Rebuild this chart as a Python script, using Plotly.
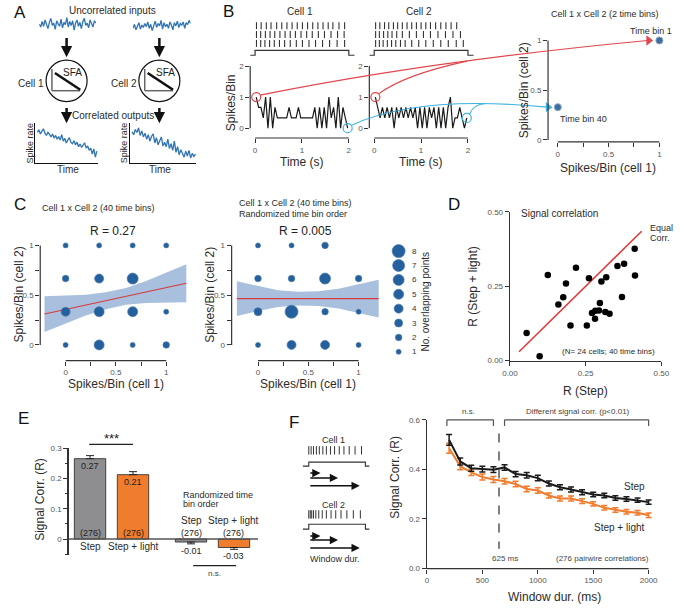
import plotly.graph_objects as go

W, H = 683, 613
FONT = "Liberation Sans, Arial, sans-serif"
TXT = "#2b2b2b"
AX = "#333333"
RED = "#e0474c"
CYAN = "#3fb3e0"
BLUE = "#2f74b5"
BUB = "#23609d"
BUB_EDGE = "#4a78a8"
GRAY = "#8e8e91"
ORANGE = "#f07c2e"

# ======================= DATA =======================
# Panel A: schematic rate traces (arbitrary units)
a_in_cell1 = [0.1, -0.3, 0.4, -0.2, 0.6, 0.0, -0.5, 0.3, 0.8, -0.1, 0.2, -0.6, 0.5, 0.1, -0.2, 0.7, -0.4, 0.3, 0.0, 0.9,
              -0.3, 0.4, -0.1, 0.5, -0.7, 0.2, 0.6, -0.2, 0.3, -0.5, 0.4, 0.8, -0.1, 0.2, -0.4, 0.6, 0.1, -0.3, 0.5, 0.2]
a_in_cell2 = [-0.2, 0.3, -0.4, 0.1, 0.5, -0.3, 0.2, -0.1, 0.4, 0.0, 0.6, -0.2, 0.3, -0.5, 0.2, 0.7, -0.1, 0.4, 0.1, 0.8,
              -0.3, 0.5, 0.0, 0.3, -0.2, 0.6, 0.2, -0.4, 0.5, 0.1, 0.7, -0.1, 0.4, 0.2, 0.6, -0.2, 0.5, 0.3, 0.8, 0.4]
a_out_cell1 = [0.78, 0.85, 0.74, 0.80, 0.88, 0.76, 0.70, 0.79, 0.72, 0.66, 0.74, 0.63, 0.70, 0.60, 0.67, 0.58, 0.72, 0.55, 0.62, 0.50,
               0.58, 0.64, 0.52, 0.48, 0.56, 0.45, 0.52, 0.40, 0.47, 0.38, 0.44, 0.50, 0.36, 0.42, 0.30, 0.36, 0.20, 0.34, 0.12, 0.28]
a_out_cell2 = [0.80, 0.72, 0.86, 0.78, 0.90, 0.70, 0.82, 0.66, 0.76, 0.60, 0.72, 0.55, 0.68, 0.74, 0.50, 0.64, 0.45, 0.58, 0.66, 0.42,
               0.52, 0.40, 0.60, 0.35, 0.48, 0.30, 0.55, 0.25, 0.40, 0.18, 0.32, 0.22, 0.12, 0.28, 0.15, 0.30, 0.10, 0.22, 0.14, 0.20]

# Panel B: spikes per 50-ms bin (40 bins over 2 s)
b_bin_s = 0.05
b_cell1 = [1, 0.67, 0.67, 0.33, 1, 0, 1, 0, 0.67, 0.33,
           0.33, 0.33, 0.33, 0.33, 0.67, 0.33, 0.33, 0.33, 0.67, 0.33,
           0.33, 0.33, 0.33, 0.33, 0.33, 0.67, 0, 0.67, 0, 0.67,
           0, 1, 0.33, 0.67, 0, 1, 0, 0.67, 0.33, 0]
b_cell2 = [1, 0.67, 0.33, 0.67, 0.33, 0.67, 0.33, 0.67, 0, 0.67,
           0.33, 0.67, 0.33, 0.67, 0.33, 0.67, 0.33, 0.67, 0, 0.67,
           0, 0.67, 0, 0.67, 0.33, 0.67, 0, 0.67, 0, 0.67,
           0, 0.67, 1, 0, 0.33, 0.33, 0.67, 0.33, 0, 0.33]
b_time = [b_bin_s * (i + 0.5) for i in range(len(b_cell1))]
b_raster_cell1 = [
    [0.03, 0.13, 0.24, 0.34, 0.46, 0.57, 0.68, 0.79, 0.90, 1.01, 1.12, 1.23, 1.34, 1.45, 1.56, 1.66, 1.79, 1.91],
    [0.03, 0.12, 0.22, 0.32, 0.42, 0.53, 0.64, 0.75, 0.86, 0.98, 1.10, 1.22, 1.35, 1.48, 1.62, 1.76, 1.90],
    [0.03, 0.12, 0.21, 0.31, 0.41, 0.52, 0.63, 0.75, 0.88, 1.01, 1.15, 1.29, 1.44, 1.59, 1.75, 1.91],
]
b_raster_cell2 = [
    [0.03, 0.12, 0.22, 0.31, 0.41, 0.50, 0.60, 0.70, 0.80, 0.90, 1.00, 1.10, 1.20, 1.31, 1.42, 1.53, 1.64, 1.76],
    [0.03, 0.11, 0.20, 0.29, 0.38, 0.48, 0.60, 0.75, 0.90, 1.05, 1.20, 1.36, 1.52, 1.68, 1.84],
    [0.03, 0.11, 0.19, 0.28, 0.37, 0.46, 0.56, 0.66, 0.80, 0.95, 1.10, 1.26, 1.42, 1.58, 1.75, 1.90],
]
b_pair_labels = ["Time bin 1", "Time bin 40"]

# Panel C: overlapping-point counts on the 4x4 grid (rows = cell 2 level, cols = cell 1 level)
c_levels = [0, 1 / 3, 2 / 3, 1]
c_counts_ordered = [[1, 5, 1, 2],
                    [4, 5, 5, 1],
                    [2, 4, 6, 0],
                    [1, 1, 1, 1]]
c_counts_random = [[1, 4, 4, 1],
                   [3, 8, 2, 1],
                   [2, 2, 6, 2],
                   [1, 1, 2, 0]]
c_r_text = ["R = 0.27", "R = 0.005"]
c_fit_x = [-0.21, 0.0, 0.2, 0.4, 0.6, 0.8, 1.0, 1.2]
c_line_ordered = [0.31, 0.356, 0.40, 0.444, 0.488, 0.532, 0.576, 0.62]
c_hi_ordered = [0.49, 0.496, 0.505, 0.529, 0.573, 0.642, 0.726, 0.81]
c_lo_ordered = [0.13, 0.216, 0.295, 0.359, 0.403, 0.422, 0.426, 0.43]
c_line_random = [0.465, 0.465, 0.465, 0.465, 0.465, 0.465, 0.465, 0.465]
c_hi_random = [0.64, 0.59, 0.55, 0.535, 0.54, 0.565, 0.61, 0.655]
c_lo_random = [0.29, 0.34, 0.38, 0.395, 0.39, 0.365, 0.32, 0.275]
c_legend_counts = [1, 2, 3, 4, 5, 6, 7, 8]
c_size_px = {1: 5, 2: 6.5, 3: 8, 4: 9, 5: 10, 6: 11, 7: 12, 8: 13}

# Panel D: signal correlation per pair
d_step = [0.055, 0.098, 0.125, 0.160, 0.176, 0.185, 0.200, 0.218, 0.254, 0.261, 0.271, 0.281,
          0.282, 0.294, 0.297, 0.302, 0.315, 0.318, 0.329, 0.355, 0.370, 0.377, 0.412, 0.413]
d_light = [0.093, 0.015, 0.288, 0.189, 0.213, 0.259, 0.118, 0.312, 0.118, 0.277, 0.160, 0.141,
           0.168, 0.169, 0.194, 0.266, 0.164, 0.280, 0.158, 0.318, 0.214, 0.326, 0.376, 0.286]
d_equal = [0.03, 0.435]

# Panel E
e_labels = ["Step", "Step + light", "Step", "Step + light"]
e_values = [0.266, 0.213, -0.010, -0.028]
e_sem = [0.010, 0.010, 0.006, 0.006]
e_n = [276, 276, 276, 276]

# Panel F
f_window = [200, 300, 400, 500, 600, 700, 800, 900, 1000, 1100, 1200, 1300, 1400, 1500, 1600, 1700, 1800, 1900, 2000]
f_step = [0.519, 0.432, 0.405, 0.401, 0.399, 0.408, 0.381, 0.376, 0.365, 0.343, 0.328, 0.319, 0.308, 0.299,
          0.295, 0.285, 0.281, 0.276, 0.268]
f_step_sem = [0.022, 0.014, 0.012, 0.012, 0.012, 0.011, 0.011, 0.011, 0.011, 0.010, 0.010, 0.010, 0.010,
              0.009, 0.009, 0.009, 0.009, 0.009, 0.009]
f_light = [0.485, 0.413, 0.388, 0.369, 0.359, 0.352, 0.341, 0.321, 0.315, 0.295, 0.283, 0.283, 0.272, 0.261,
           0.245, 0.236, 0.229, 0.225, 0.215]
f_light_sem = [0.020, 0.014, 0.013, 0.012, 0.012, 0.011, 0.011, 0.011, 0.011, 0.010, 0.010, 0.010, 0.010,
               0.009, 0.009, 0.009, 0.009, 0.009, 0.009]
f_split_ms = 650
f_spikes_cell1 = [0, 0.04, 0.08, 0.13, 0.18, 0.24, 0.30, 0.37, 0.44, 0.52, 0.60, 0.69, 0.79, 0.90]
f_spikes_cell2 = [0, 0.025, 0.05, 0.08, 0.12, 0.17, 0.23, 0.30, 0.38, 0.46, 0.55, 0.65, 0.76, 0.88]
f_windows_demo = [0.2, 0.5, 0.87]

# ======================= HELPERS =======================
fig = go.Figure()
layout = {}
shapes = []
ann = []


def to_val(m, p):
    v0, p0, v1, p1 = m
    return v0 + (p - p0) * (v1 - v0) / (p1 - p0)


def to_px(m, v):
    v0, p0, v1, p1 = m
    return p0 + (v - v0) * (p1 - p0) / (v1 - v0)


def base_axis(**kw):
    d = dict(showgrid=False, zeroline=False, showline=False, ticks='', showticklabels=False, fixedrange=True)
    d.update(kw)
    return d


TICK = dict(ticks='outside', ticklen=4, tickwidth=1, tickcolor=AX, showticklabels=True,
            tickfont=dict(family=FONT, size=8, color='#555'))


def sub(n, L, R, T, B, xm, ym, xkw=None, ykw=None):
    s = '' if n == 1 else str(n)
    layout['xaxis' + s] = base_axis(domain=[L / W, R / W], range=[to_val(xm, L), to_val(xm, R)],
                                    anchor='y' + s, **(xkw or {}))
    layout['yaxis' + s] = base_axis(domain=[1 - B / H, 1 - T / H], range=[to_val(ym, B), to_val(ym, T)],
                                    anchor='x' + s, **(ykw or {}))
    return 'x' + s, 'y' + s


def ov_line(x0, y0, x1, y1, color=AX, width=1.2, dash=None):
    ln = dict(color=color, width=width)
    if dash:
        ln['dash'] = dash
    shapes.append(dict(type='line', xref='x13', yref='y13', x0=x0, y0=y0, x1=x1, y1=y1, line=ln))


def T(x, y, s, size=10, color=TXT, angle=0, xa='center', ya='middle'):
    ann.append(dict(x=x / W, y=1 - y / H, xref='paper', yref='paper', text=s, showarrow=False,
                    font=dict(family=FONT, size=size, color=color), textangle=angle, xanchor=xa, yanchor=ya))


def ARW(x0, y0, x1, y1, width=2, size=1.0, color='#111'):
    ann.append(dict(x=x1, y=y1, xref='x13', yref='y13', ax=x0, ay=y0, axref='x13', ayref='y13',
                    showarrow=True, arrowhead=2, arrowsize=size, arrowwidth=width, arrowcolor=color, text=''))


def ytick(vals, text=None):
    d = dict(TICK, tickvals=vals)
    if text is not None:
        d['ticktext'] = text
    return d


# overlay axis in page pixels (for schematics / connectors)
layout['xaxis13'] = base_axis(domain=[0, 1], range=[0, W], anchor='y13')
layout['yaxis13'] = base_axis(domain=[0, 1], range=[H, 0], anchor='x13')

# ======================= PANEL A =======================
T(12, 9, "A", size=17, color='#111')
T(107, 7, "Uncorrelated inputs", size=10)
for n, L, R, Tt, B, vals in [(9, 32, 90, 12, 30, a_in_cell1), (10, 128, 187, 14, 32, a_in_cell2)]:
    xa, ya = sub(n, L, R, Tt, B, (0, L, len(vals) - 1, R), (-1, B - 1, 1, Tt + 1))
    fig.add_trace(go.Scatter(x=list(range(len(vals))), y=vals, mode='lines',
                             line=dict(color=BLUE, width=1.3), xaxis=xa, yaxis=ya))
for n, L, R, vals in [(11, 28, 92, a_out_cell1), (12, 125, 193, a_out_cell2)]:
    lk = dict(showline=True, linecolor='#111', linewidth=1.5)
    xa, ya = sub(n, L, R, 121, 161, (0, L + 2, len(vals) - 1, R - 1), (0, 160, 1, 122), xkw=lk, ykw=lk)
    fig.add_trace(go.Scatter(x=list(range(len(vals))), y=vals, mode='lines',
                             line=dict(color=BLUE, width=1.3), xaxis=xa, yaxis=ya))
for cx, lab in [(60, "Cell 1"), (155, "Cell 2")]:
    ARW(cx, 33, cx, 54, width=2.5, size=0.9)
    ARW(cx, 104, cx, 121, width=2.5, size=0.9)
    shapes.append(dict(type='circle', xref='x13', yref='y13', x0=cx - 21, x1=cx + 21, y0=57, y1=99,
                       line=dict(color='#111', width=1.2)))
    ov_line(cx - 15, 66, cx - 15, 88, color='#666', width=1.5)
    ov_line(cx - 15, 88, cx + 14, 88, color='#666', width=1.5)
    ov_line(cx - 12, 70, cx + 14, 87, color='#111', width=2.5)
    T(cx + 6, 70, "SFA", size=10, color='#222')
    T(cx - 36, 81, lab, size=10)
    T(cx + 1, 168, "Time", size=10)
    T(cx - 38 if cx == 60 else cx - 36, 141, "Spike rate", size=9, angle=-90)
T(108, 113, "Correlated outputs", size=10)

# ======================= PANEL B =======================
T(226, 8, "B", size=17, color='#111')
b_ym = (0, 126, 2, 63)
b_rows_px = [22, 31, 40]
b_step_px = (52, 47)
b_axes = {}
for n, xm, L, R, cell, raster, title in [(1, (0, 253, 2, 349), 248, 358, b_cell1, b_raster_cell1, "Cell 1"),
                                         (2, (0, 375, 2, 471), 370, 480, b_cell2, b_raster_cell2, "Cell 2")]:
    xa, ya = sub(n, L, R, 14, 136, xm, b_ym, xkw=ytick([0, 1, 2]), ykw=ytick([0, 1, 2]))
    b_axes[n] = xm
    for row, py in zip(raster, b_rows_px):
        yv = to_val(b_ym, py)
        fig.add_trace(go.Scatter(x=row, y=[yv] * len(row), mode='markers', cliponaxis=False,
                                 marker=dict(symbol='line-ns', size=5, line=dict(color='#333', width=1.1)),
                                 xaxis=xa, yaxis=ya))
    lo, hi = to_val(b_ym, b_step_px[0]), to_val(b_ym, b_step_px[1])
    fig.add_trace(go.Scatter(x=[to_val(xm, L), 0, 0, 2, 2, 2.12], y=[lo, lo, hi, hi, lo, lo], mode='lines',
                             line=dict(color='#333', width=1.2), xaxis=xa, yaxis=ya))
    fig.add_trace(go.Scatter(x=b_time, y=cell, mode='lines', line=dict(color='#1a1a1a', width=1.2),
                             xaxis=xa, yaxis=ya))
    fig.add_trace(go.Scatter(x=[b_time[0]], y=[cell[0]], mode='markers', cliponaxis=False,
                             marker=dict(symbol='circle-open', size=9, color=RED, line=dict(width=1.2, color=RED)),
                             xaxis=xa, yaxis=ya))
    fig.add_trace(go.Scatter(x=[b_time[-1]], y=[cell[-1]], mode='markers', cliponaxis=False,
                             marker=dict(symbol='circle-open', size=9, color=CYAN, line=dict(width=1.2, color=CYAN)),
                             xaxis=xa, yaxis=ya))
    ov_line(L, to_px(b_ym, 0), L, to_px(b_ym, 2))
    ov_line(to_px(xm, 0), 136, to_px(xm, 2), 136)
    T(to_px(xm, 1), 160, "Time (s)", size=12)
    T(to_px(xm, 1) - 2, 8, title, size=10)
T(228, 100, "Spikes/Bin", size=12, angle=-90)

# pair scatter (2 bins)
b3_xm, b3_ym = (0, 563, 1, 667), (0, 138, 1, 37)
xa, ya = sub(3, 553, 683, 20, 140, b3_xm, b3_ym,
             xkw=ytick([0, 0.25, 0.5, 0.75, 1], ['0', '', '0.5', '', '1']), ykw=ytick([0, 0.5, 1], ['0', '0.5', '1']))
px_pts = [b_cell1[0], b_cell1[-1]]
py_pts = [b_cell2[0], b_cell2[-1]]
fig.add_trace(go.Scatter(x=px_pts, y=py_pts, mode='markers', cliponaxis=False,
                         marker=dict(size=7, color='#3d6e9f', line=dict(color='#8aa6c4', width=1)),
                         xaxis=xa, yaxis=ya))
ov_line(553, to_px(b3_ym, 0), 553, to_px(b3_ym, 1))
ov_line(to_px(b3_xm, 0), 140, to_px(b3_xm, 1), 140)
T(611, 10, "Cell 1 x Cell 2 (2 time bins)", size=9)
T(682, to_px(b3_ym, py_pts[0]) - 10, b_pair_labels[0], size=9, xa='right')
T(to_px(b3_xm, px_pts[1]), to_px(b3_ym, py_pts[1]) + 12, b_pair_labels[1], size=9, xa='left')
T(614, 166, "Spikes/Bin (cell 1)", size=12)
T(528, 88, "Spikes/Bin (cell 2)", size=12, angle=-90)

# connectors
b1x, b2x = b_axes[1], b_axes[2]
r0 = (to_px(b1x, b_time[0]), to_px(b_ym, b_cell1[0]))
r2 = (to_px(b2x, b_time[0]), to_px(b_ym, b_cell2[0]))
rend = (to_px(b3_xm, px_pts[0]) - 12, to_px(b3_ym, py_pts[0]))
shapes.append(dict(type='path', xref='x13', yref='y13', line=dict(color=RED, width=1.1),
                   path=f"M {r0[0]+4},{r0[1]-2} Q 430,58 {rend[0]},{rend[1]}"))
shapes.append(dict(type='path', xref='x13', yref='y13', line=dict(color=RED, width=1.1),
                   path=f"M {r2[0]+3},{r2[1]-3} Q 405,72 470,58"))
c0 = (to_px(b1x, b_time[-1]), to_px(b_ym, b_cell1[-1]))
c2 = (to_px(b2x, b_time[-1]), to_px(b_ym, b_cell2[-1]))
cend = (to_px(b3_xm, px_pts[1]) - 11, to_px(b3_ym, py_pts[1]))
shapes.append(dict(type='path', xref='x13', yref='y13', line=dict(color=CYAN, width=1.1),
                   path=f"M {c0[0]+4},{c0[1]-3} Q 420,92 {cend[0]},{cend[1]}"))
shapes.append(dict(type='path', xref='x13', yref='y13', line=dict(color=CYAN, width=1.1),
                   path=f"M {c2[0]+3},{c2[1]-4} Q 476,102 489,101"))
fig.add_trace(go.Scatter(x=[rend[0] + 1, cend[0] + 1], y=[rend[1], cend[1]], mode='markers',
                         marker=dict(symbol='triangle-right', size=9, color=[RED, CYAN]),
                         xaxis='x13', yaxis='y13'))

# ======================= PANEL C =======================
T(12, 203, "C", size=17, color='#111')
c_ym = (0, 346, 1, 245)
ctick = ytick([0, 0.25, 0.5, 0.75, 1], ['0', '', '0.5', '', '1'])
for n, L, xm, counts, hi, lo, line, rtxt in [
        (4, 33, (0, 59, 1, 162), c_counts_ordered, c_hi_ordered, c_lo_ordered, c_line_ordered, c_r_text[0]),
        (5, 229, (0, 256, 1, 359), c_counts_random, c_hi_random, c_lo_random, c_line_random, c_r_text[1])]:
    xa, ya = sub(n, L, L + 158, 236, 362, xm, c_ym, xkw=ctick, ykw=ctick)
    fig.add_trace(go.Scatter(x=c_fit_x + c_fit_x[::-1], y=hi + lo[::-1], fill='toself', mode='lines',
                             fillcolor='#a8c0dd', line=dict(width=0, color='#a8c0dd'), xaxis=xa, yaxis=ya))
    fig.add_trace(go.Scatter(x=c_fit_x, y=line, mode='lines', line=dict(color='#d8383a', width=1.1),
                             xaxis=xa, yaxis=ya))
    bx, by, bs = [], [], []
    for i, yv in enumerate(c_levels):
        for j, xv in enumerate(c_levels):
            cnt = counts[i][j]
            if cnt:
                bx.append(xv)
                by.append(yv)
                bs.append(c_size_px[cnt])
    fig.add_trace(go.Scatter(x=bx, y=by, mode='markers', cliponaxis=False,
                             marker=dict(size=bs, color=BUB, opacity=1, line=dict(color=BUB_EDGE, width=0.7)),
                             xaxis=xa, yaxis=ya))
    ov_line(L, to_px(c_ym, 0), L, to_px(c_ym, 1))
    ov_line(to_px(xm, 0), 362, to_px(xm, 1), 362)
    T(to_px(xm, 0.5), 386, "Spikes/Bin (cell 1)", size=12)
    T(L - 22, 295, "Spikes/Bin (cell 2)", size=12, angle=-90)
    T(to_px(xm, 0.47), 230, rtxt, size=12, color='#222')
T(93, 207, "Cell 1 x Cell 2 (40 time bins)", size=9)
T(235, 202, "Cell 1 x Cell 2 (40 time bins)", size=9, xa='left')
T(235, 213, "Randomized time bin order", size=9, xa='left')
leg_y = [353 - (k - 1) * 14.6 for k in c_legend_counts]
fig.add_trace(go.Scatter(x=[400] * len(c_legend_counts), y=leg_y, mode='markers',
                         marker=dict(size=[c_size_px[k] for k in c_legend_counts], color=BUB, opacity=1,
                                     line=dict(color=BUB_EDGE, width=0.7)), xaxis='x13', yaxis='y13'))
for k, yy in zip(c_legend_counts, leg_y):
    T(416, yy, str(k), size=8, color='#333')
T(428, 302, "No. overlapping points", size=10, angle=-90)

# ======================= PANEL D =======================
T(457, 203, "D", size=17, color='#111')
dk = dict(ytick([0, 0.25, 0.5], ['0.00', '0.25', '0.50']), showline=True, linecolor=AX, linewidth=1.3)
xa, ya = sub(6, 514, 669, 211, 362, (0, 514, 0.5, 669), (0, 362, 0.5, 211), xkw=dk, ykw=dk)
fig.add_trace(go.Scatter(x=d_equal, y=d_equal, mode='lines', line=dict(color='#e03a3a', width=1.6),
                         xaxis=xa, yaxis=ya))
fig.add_trace(go.Scatter(x=d_step, y=d_light, mode='markers', cliponaxis=False,
                         marker=dict(size=6.5, color='black'), xaxis=xa, yaxis=ya))
T(565, 213, "Signal correlation", size=10)
T(655, 227, "Equal", size=9, xa='left')
T(655, 237, "Corr.", size=9, xa='left')
T(615, 353, "(N= 24 cells; 40 time bins)", size=8)
T(476, 287, "R (Step + light)", size=12, angle=-90)
T(591, 393, "R (Step)", size=12)

# ======================= PANEL E =======================
T(16, 421, "E", size=17, color='#111')
e_xm, e_ym = (1, 84, 2, 128), (0, 543, 0.3, 451)
e_pos = [1, 2, 3.35, 4.35]
ek = dict(ytick([0, 0.1, 0.2, 0.3], ['0', '0.1', '0.2', '0.3']), showline=True, linecolor=AX, linewidth=1.3,
          minor=dict(ticks='outside', ticklen=2, tickcolor=AX, tickvals=[-0.05, 0.05, 0.15, 0.25]))
xa, ya = sub(7, 62, 262, 451, 559, e_xm, e_ym, ykw=ek)
e_colors = [GRAY, ORANGE, GRAY, ORANGE]
fig.add_trace(go.Bar(x=e_pos, y=e_values, width=0.73,
                     marker=dict(color=e_colors, line=dict(color='#222', width=0.8)),
                     error_y=dict(type='data', symmetric=False,
                                  array=[s if v > 0 else 0 for v, s in zip(e_values, e_sem)],
                                  arrayminus=[0 if v > 0 else s for v, s in zip(e_values, e_sem)],
                                  color='#222', thickness=1, width=4),
                     xaxis=xa, yaxis=ya))
ov_line(62, to_px(e_ym, 0), 256, to_px(e_ym, 0), color='#555', width=1.5)
for p, v, s, nn, lab in zip(e_pos, e_values, e_sem, e_n, e_labels):
    x = to_px(e_xm, p)
    T(x, 537, f"({nn})", size=9, color='#222')
    if v > 0:
        T(x, to_px(e_ym, v) + 7, f"{v:.2f}", size=9, color='#222')
        T(x, 551, lab, size=10)
    else:
        T(x, to_px(e_ym, v - s) + 7, f"{v:.2f}", size=9, color='#222')
        T(x, 524, lab, size=10)
T(177, 498, "Randomized time", size=9, xa='left')
T(177, 507, "bin order", size=9, xa='left')
ov_line(to_px(e_xm, 0.98), 447, to_px(e_xm, 2.0), 447, color='#222', width=1.2)
T(to_px(e_xm, 1.5), 441, "***", size=13, color='#222')
ov_line(to_px(e_xm, 3.4), 570, to_px(e_xm, 4.4), 570, color='#222', width=1.2)
T(to_px(e_xm, 3.9), 578, "n.s.", size=8, color='#444')
T(32, 503, "Signal Corr. (R)", size=12, angle=-90)

# ======================= PANEL F =======================
T(293, 425, "F", size=17, color='#111')
# schematic
for lab, ly, spikes, base, high, arr_y in [("Cell 1", 443, f_spikes_cell1, 469, 465, [476, 481, 489]),
                                          ("Cell 2", 508, f_spikes_cell2, 533, 528, [540, 544, 552])]:
    T(333, ly, lab, size=9)
    sx = [308 + f * 60 for f in spikes]
    fig.add_trace(go.Scatter(x=sx, y=[ly + 10] * len(sx), mode='markers',
                             marker=dict(symbol='line-ns', size=6, line=dict(color='#333', width=1)),
                             xaxis='x13', yaxis='y13'))
    fig.add_trace(go.Scatter(x=[302, 308, 308, 366, 366, 370], y=[base, base, high, high, base, base], mode='lines',
                             line=dict(color='#333', width=1.1), xaxis='x13', yaxis='y13'))
    for wdur, yy in zip(f_windows_demo, arr_y):
        ARW(308, yy, 308 + wdur * 60, yy, width=1.5, size=1.1)
T(335, 563, "Window dur.", size=9)

f_xm, f_ym = (0, 429, 2000, 656), (0, 573, 0.6, 422)
fk_y = dict(ytick([0, 0.2, 0.4, 0.6], ['0.0', '0.2', '0.4', '0.6']), showline=True, linecolor=AX, linewidth=1.3)
xa, ya = sub(8, 429, 672, 422, 573, f_xm, f_ym, xkw=ytick([0, 500, 1000, 1500, 2000]), ykw=fk_y)
ov_line(429, 573, to_px(f_xm, 2000), 573, width=1.3)
for ys, es, col in [(f_light, f_light_sem, ORANGE), (f_step, f_step_sem, '#1a1a1a')]:
    fig.add_trace(go.Scatter(x=f_window, y=ys, mode='lines', line=dict(color=col, width=2),
                             error_y=dict(type='data', array=es, color=col, thickness=1.5, width=3),
                             cliponaxis=False, xaxis=xa, yaxis=ya))
xs = to_px(f_xm, f_split_ms)
ov_line(xs, to_px(f_ym, 0.545), xs, to_px(f_ym, 0.08), color='#555', width=1.5, dash='dash')
by_top, by_leg = to_px(f_ym, 0.6), to_px(f_ym, 0.575)
for a, b in [(180, 600), (700, 2000)]:
    x0, x1 = to_px(f_xm, a), to_px(f_xm, b)
    ov_line(x0, by_leg, x0, by_top, color='#555', width=1.2)
    ov_line(x0, by_top, x1, by_top, color='#555', width=1.2)
    ov_line(x1, by_top, x1, by_leg, color='#555', width=1.2)
T(472, 414, "n.s.", size=8, color='#444')
T(584, 414, "Different signal corr. (p<0.01)", size=8, color='#444')
T(509, 563, "625 ms", size=8, color='#444')
T(609, 563, "(276 pairwire correlations)", size=8, color='#444')
T(642, 490, "Step", size=10)
T(626, 531, "Step + light", size=10)
T(560, 602, "Window dur. (ms)", size=12)
T(396, 480, "Signal Corr. (R)", size=12, angle=-90)

# ======================= LAYOUT =======================
layout.update(dict(width=W, height=H, margin=dict(l=0, r=0, t=0, b=0), showlegend=False,
                   paper_bgcolor='white', plot_bgcolor='rgba(0,0,0,0)', shapes=shapes, annotations=ann,
                   font=dict(family=FONT, color=TXT), bargap=0, hovermode=False))
fig.update_layout(**layout)
fig.write_html("out.html", config={'displayModeBar': False, 'staticPlot': True},
               post_script="document.body.style.margin='0';document.body.style.overflow='hidden';")
